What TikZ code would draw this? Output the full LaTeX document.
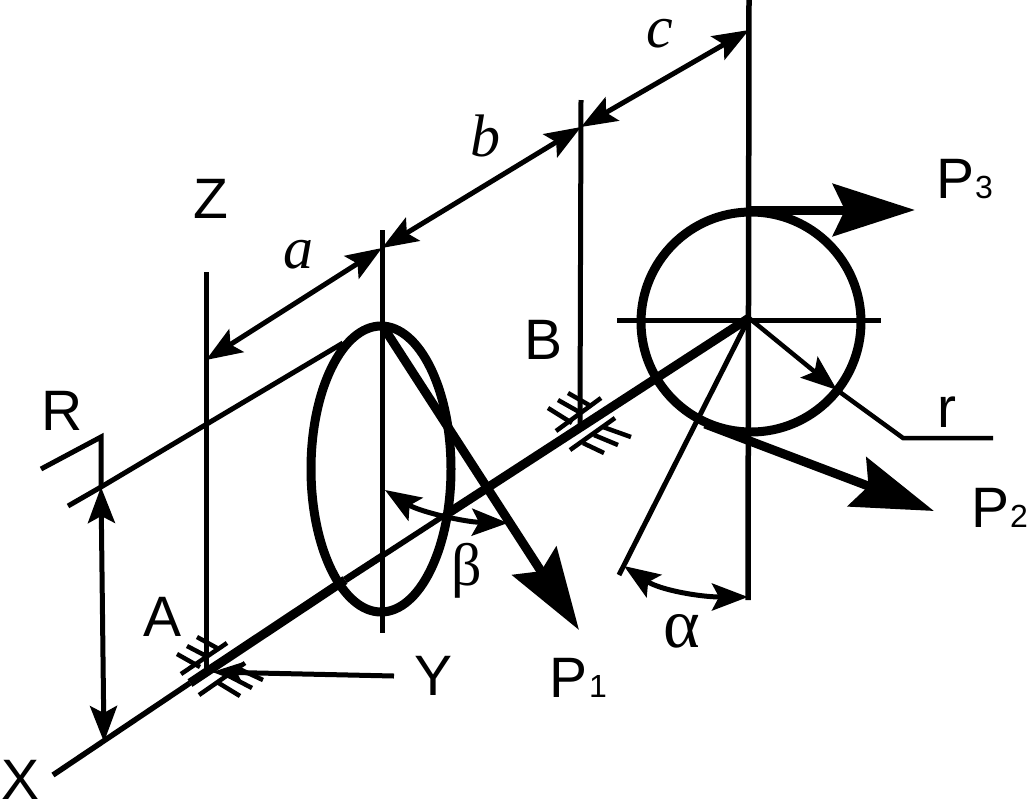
\documentclass[tikz,border=0pt]{standalone}
\usepackage{fontspec}
\setmainfont{Liberation Sans}
\newfontfamily\serifgreek{Liberation Serif}
\usetikzlibrary{arrows.meta}
\tikzset{
  thinline/.style={line width=5pt},
  shaftline/.style={line width=9pt},
  dimtip/.style={{Stealth[length=36pt,width=27pt,inset=7pt]}-{Stealth[length=36pt,width=27pt,inset=7pt]}, line width=5pt},
  forcetip/.style={-{Stealth[length=82pt,width=52pt,inset=12pt]}, line width=9pt},
  lbl/.style={inner sep=0pt, anchor=base, font=\fontsize{57}{60}\selectfont},
  sublbl/.style={inner sep=0pt, anchor=base west, font=\fontsize{32}{34}\selectfont},
  letter/.style={inner sep=0pt, anchor=base, font=\serifgreek\itshape\fontsize{60}{62}\selectfont},
  greek/.style={inner sep=0pt, anchor=base, font=\serifgreek\fontsize{60}{62}\selectfont}
}
\begin{document}
\begin{tikzpicture}[x=1pt, y=-1pt]
  \useasboundingbox (0,0) rectangle (1028,804);
  \coordinate (O) at (749,318);
  \coordinate (Xend) at (53,775);
  \coordinate (Abear) at (190,683);
  \coordinate (Emid) at (345,580);
  \coordinate (Ecross) at (382,556);
  \coordinate (Eright) at (445,515);
  \coordinate (Rtop) at (101,487);
  \coordinate (Rbot) at (104,742);
  \coordinate (Za) at (206,360);
  \coordinate (Zb) at (382,248);
  \coordinate (Zc) at (581,127);
  \coordinate (Zd) at (749,30);
  \coordinate (rbend) at (903,438);
  \coordinate (rhit) at (837,390);

  \draw[thinline] (206,272) -- (206,668);
  \draw[thinline] (382,230) -- (382,633);
  \draw[thinline] (581,100) -- (580,425);
  \draw[line width=5.5pt] (749,0) -- (748,600);
  \draw[thinline] (617,320) -- (881,320);

  \draw[line width=9pt] (381,469) ellipse [x radius=70, y radius=143];
  \draw[line width=9pt] (751,322) circle [radius=110];

  \draw[line width=5.5pt] (Xend) -- (Abear);
  \draw[shaftline] (Abear) -- (Emid);
  \draw[line width=7pt] (Emid) -- (Ecross);
  \draw[line width=5.5pt] (Ecross) -- (Eright);
  \draw[shaftline] (450,512) -- (O);

  \draw[thinline] (68,506) -- (Rtop) -- (343,343);
  \draw[thinline, line join=miter] (41,469) -- (101,437) -- (Rtop);
  \draw[dimtip] (Rtop) -- (Rbot);

  \draw[dimtip] (Za) -- (Zb);
  \draw[dimtip] (Zb) -- (Zc);
  \draw[dimtip] (Zc) -- (Zd);

  \draw[forcetip] (749,210) -- (915,210);
  \draw[forcetip] (705,424) -- (934,511);
  \draw[forcetip] (382,325) -- (579,630);

  \draw[thinline] (O) -- (619,575);
  \draw[-{Stealth[length=36pt,width=27pt,inset=7pt]}, line width=4.5pt] (O) -- (rhit);
  \draw[line width=4.5pt] (rhit) -- (rbend) -- (993,438);

  \draw[dimtip] (624,566) .. controls (660,590) and (700,597) .. (748,597);
  \draw[dimtip] (385,490) .. controls (420,512) and (465,522) .. (508,523);

  \draw[-{Stealth[length=30pt,width=20pt,inset=5pt]}, line width=5pt] (394,676) -- (212,672);

  \foreach \x/\y/\u/\v in {181/674/227/643, 177/654/200/667, 187/646/208/657, 197/637/217/648,
    199/695/245/663, 217/682/240/696, 227/675/252/688, 235/667/263/680,
    556/431/601/398, 548/408/572/423, 558/400/581/413, 568/393/589/405,
    570/450/615/418, 583/443/604/453, 594/435/618/445, 603/427/631/437}
    \draw[line width=4.5pt] (\x,\y) -- (\u,\v);

  \node[lbl] (Zlabel) at (211,218) {Z};
  \node[lbl] (Rlabel) at (62,430) {R};
  \node[lbl] (Alabel) at (163,636) {A};
  \node[lbl] (Xlabel) at (21,799) {X};
  \node[lbl] (Ylabel) at (434,695) {Y};
  \node[lbl] (Blabel) at (544,359) {B};
  \node[lbl] (Pthree) at (955,198) {P};
  \node[sublbl] at (975,198) {3};
  \node[lbl] (Ptwo) at (990,527) {P};
  \node[sublbl] at (1010,527) {2};
  \node[lbl] (Pone) at (569,697) {P};
  \node[sublbl] at (589,697) {1};
  \node[lbl] (rlabel) at (947,427) {r};
  \node[letter] (alabel) at (298,268) {a};
  \node[letter] (blabel) at (485,156) {b};
  \node[letter] (clabel) at (660,47) {c};
  \node[greek, font=\serifgreek\fontsize{70}{72}\selectfont] (alpha) at (682,647) {α};
  \node[greek] (beta) at (467,585) {β};
\end{tikzpicture}
\end{document}
